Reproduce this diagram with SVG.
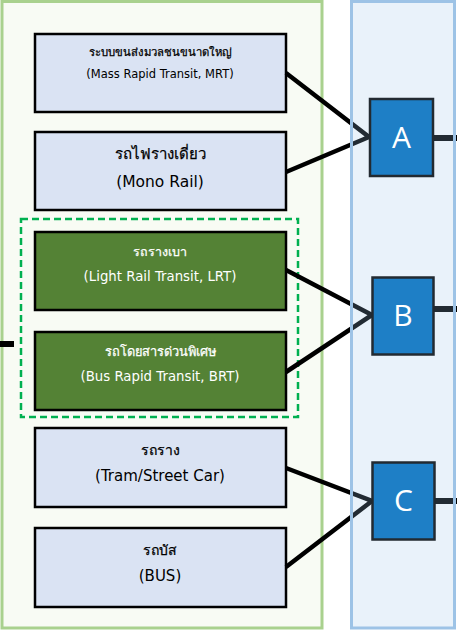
<svg xmlns="http://www.w3.org/2000/svg" width="457" height="631" viewBox="0 0 457 631">
<style>
  .box { fill: #dae3f3; stroke: #000; stroke-width: 2.5; }
  .gbox { fill: #548235; stroke: #000; stroke-width: 2.5; }
  .hub { fill: #1e7fc6; stroke: #222a31; stroke-width: 2.5; }
  .t { font-family: Tahoma, "DejaVu Sans", "Noto Sans", sans-serif; text-anchor: middle; fill: #000; }
  .th { stroke: #000; stroke-width: 0.25; }
  .w { fill: #fff; }
  .th.w { stroke: #fff; }
  .hubt { font-family: "Open Sans", "Noto Sans", sans-serif; font-size: 30px; fill: #fff; text-anchor: middle; }
  .conn { stroke: #000; stroke-width: 4.5; fill: none; }
  .stub { stroke: #000; stroke-width: 6; fill: none; }
</style>
<rect width="457" height="631" fill="#fff"/>
<g id="container-left">
  <rect x="2" y="1.5" width="320" height="626.5" fill="#f8fbf4" stroke="#a9d18e" stroke-width="3"/>
</g>
<g id="group-green">
  <rect x="21" y="219" width="277" height="198" fill="none" stroke="#00b050" stroke-width="2.5" stroke-dasharray="7,4"/>
</g>
<g id="node-mrt">
  <rect class="box" x="35" y="34" width="251" height="78"/>
  <text class="t th" x="160" y="56" font-size="11.3">ระบบขนส่งมวลชนขนาดใหญ่</text>
  <text class="t" x="160" y="78" font-size="11.5">(Mass Rapid Transit, MRT)</text>
</g>
<g id="node-mono">
  <rect class="box" x="35" y="132" width="251" height="78"/>
  <text class="t th" x="160" y="159" font-size="15">รถไฟรางเดี่ยว</text>
  <text class="t" x="160" y="187" font-size="15.5">(Mono Rail)</text>
</g>
<g id="node-lrt">
  <rect class="gbox" x="35" y="232" width="251" height="78"/>
  <text class="t th w" x="160" y="256" font-size="12.5">รถรางเบา</text>
  <text class="t w" x="160" y="281" font-size="13.3">(Light Rail Transit, LRT)</text>
</g>
<g id="node-brt">
  <rect class="gbox" x="35" y="332" width="251" height="78"/>
  <text class="t th w" x="160" y="356" font-size="12.8">รถโดยสารด่วนพิเศษ</text>
  <text class="t w" x="160" y="381" font-size="13.3">(Bus Rapid Transit, BRT)</text>
</g>
<g id="node-tram">
  <rect class="box" x="35" y="428" width="251" height="79"/>
  <text class="t th" x="160" y="455" font-size="14">รถราง</text>
  <text class="t" x="160" y="481" font-size="15">(Tram/Street Car)</text>
</g>
<g id="node-bus">
  <rect class="box" x="35" y="528" width="251" height="79"/>
  <text class="t th" x="160" y="555" font-size="14">รถบัส</text>
  <text class="t" x="160" y="581" font-size="15">(BUS)</text>
</g>
<g id="connectors">
  <polyline class="conn" points="286,73 369,137 286,172"/>
  <polyline class="conn" points="286,270 372,315 286,372"/>
  <polyline class="conn" points="286,468 372,501 286,567"/>
  <line class="stub" x1="0" y1="344" x2="14" y2="344"/>
  <line class="stub" x1="434" y1="138" x2="457" y2="138"/>
  <line class="stub" x1="434" y1="309" x2="457" y2="309"/>
  <line class="stub" x1="434" y1="501" x2="457" y2="501"/>
</g>
<g id="container-right">
  <rect x="351.5" y="1.5" width="103" height="626.5" fill="#9dc3e6" fill-opacity="0.22" stroke="#9dc3e6" stroke-width="3"/>
</g>
<g id="node-A">
  <rect class="hub" x="370" y="99" width="63" height="77"/>
  <text class="hubt" x="401.5" y="148">A</text>
</g>
<g id="node-B">
  <rect class="hub" x="372.5" y="277.5" width="61" height="77"/>
  <text class="hubt" x="403" y="326">B</text>
</g>
<g id="node-C">
  <rect class="hub" x="372.5" y="462.5" width="62" height="77"/>
  <text class="hubt" x="403.5" y="511">C</text>
</g>
</svg>
